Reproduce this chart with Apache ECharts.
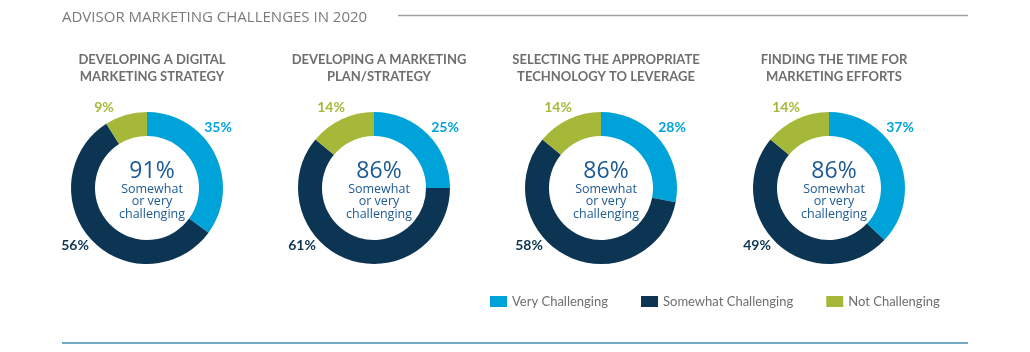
<!DOCTYPE html>
<html>
<head>
<meta charset="utf-8">
<script src="https://cdn.jsdelivr.net/npm/echarts@6/dist/echarts.min.js"></script>
<style>
  html, body { margin: 0; padding: 0; background: #fff; }
  #main { width: 1030px; height: 352px; }
</style>
</head>
<body>
<div id="main"></div>
<script>
var categories = ['Very Challenging', 'Somewhat Challenging', 'Not Challenging'];
var chartTitles = [
    'DEVELOPING A DIGITAL\nMARKETING STRATEGY',
    'DEVELOPING A MARKETING\nPLAN/STRATEGY',
    'SELECTING THE APPROPRIATE\nTECHNOLOGY TO LEVERAGE',
    'FINDING THE TIME FOR\nMARKETING EFFORTS'
];
var veryValues = [35, 25, 28, 37];
var somewhatValues = [56, 61, 58, 49];
var notValues = [9, 14, 14, 14];

var colors = ['#00a3d9', '#0c3553', '#a6b83a'];
var centersX = [147, 374, 601, 829];
var centerY = 188;
// label offsets from donut centre, per category
var labelOffsets = [[71, -61], [-72, 57], [-43, -81]];

var dom = document.getElementById('main');
var myChart = echarts.init(dom);

var titles = [{
    text: 'ADVISOR MARKETING CHALLENGES IN 2020',
    left: 57,
    top: 5,
    textStyle: { fontFamily: 'Open Sans', fontSize: 15, fontWeight: 'normal', color: '#7a7b7d' }
}];
var series = [];

for (var i = 0; i < chartTitles.length; i++) {
    titles.push({
        text: chartTitles[i],
        left: centersX[i],
        top: 46,
        textAlign: 'center',
        textStyle: { fontFamily: 'Lato', fontSize: 13, fontWeight: 'bold', color: '#6d6e70', lineHeight: 17 }
    });
    titles.push({
        text: (veryValues[i] + somewhatValues[i]) + '%',
        subtext: 'Somewhat\nor very\nchallenging',
        left: centersX[i],
        top: 155,
        textAlign: 'center',
        itemGap: 0,
        textStyle: { fontFamily: 'Open Sans', fontSize: 23, fontWeight: 'normal', color: '#1c5a94' },
        subtextStyle: { fontFamily: 'Open Sans', fontSize: 12.5, color: '#1c5a94', lineHeight: 12.5 }
    });
    series.push({
        type: 'pie',
        center: [centersX[i], centerY],
        radius: [52, 76],
        startAngle: 90,
        clockwise: true,
        silent: true,
        itemStyle: { borderWidth: 0 },
        label: {
            show: true,
            position: 'outside',
            formatter: '{c}%',
            fontFamily: 'Lato',
            fontSize: 14,
            fontWeight: 'bold',
            color: 'inherit'
        },
        labelLine: { show: false },
        labelLayout: (function (cx) {
            return function (params) {
                var off = labelOffsets[params.dataIndex];
                return { x: cx + off[0], y: centerY + off[1], align: 'center', verticalAlign: 'middle' };
            };
        })(centersX[i]),
        data: [
            { name: categories[0], value: veryValues[i], label: { color: colors[0] } },
            { name: categories[1], value: somewhatValues[i], label: { color: colors[1] } },
            { name: categories[2], value: notValues[i], label: { color: colors[2] } }
        ]
    });
}

option = {
    color: colors,
    animation: false,
    title: titles,
    legend: {
        data: categories,
        left: 485,
        top: 290,
        itemWidth: 17,
        itemHeight: 11,
        itemGap: 33,
        icon: 'rect',
        textStyle: { fontFamily: 'Lato', fontSize: 13, color: '#6d6e70' }
    },
    graphic: [
        { type: 'line', shape: { x1: 398, y1: 15.5, x2: 968, y2: 15.5 }, style: { stroke: '#a0a0a0', lineWidth: 1.5 } },
        { type: 'line', shape: { x1: 62, y1: 343, x2: 968, y2: 343 }, style: { stroke: '#74a9c2', lineWidth: 2 } }
    ],
    series: series
};

if (option && typeof option === 'object') {
    myChart.setOption(option, true);
}
</script>
</body>
</html>
